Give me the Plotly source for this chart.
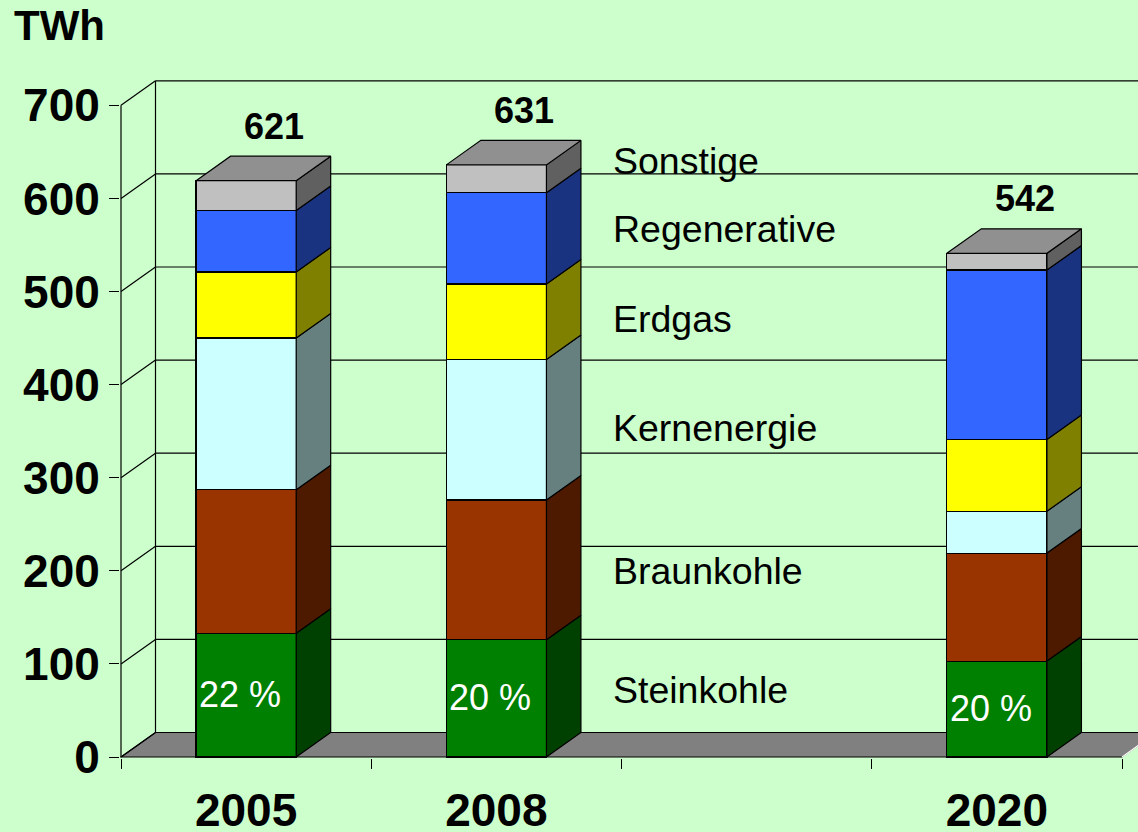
import plotly.graph_objects as go

# ---------------- data ----------------
years = ["2005", "2008", "2020"]
slots = [0, 1, 3]                      # category slot on the x axis (slot 2 is empty)
series_names = ["Steinkohle", "Braunkohle", "Kernenergie", "Erdgas", "Regenerative", "Sonstige"]
steinkohle   = [133, 126, 103]
braunkohle   = [154, 150, 116]
kernenergie  = [163, 151, 45]
erdgas       = [71, 81, 77]
regenerative = [66, 98, 182]
sonstige     = [32, 30, 18]
totals_text  = ["621", "631", "542"]
share_text   = ["22 %", "20 %", "20 %"]
y_ticks      = [0, 100, 200, 300, 400, 500, 600, 700]
label_y      = [72, 200, 353, 470, 567, 640]   # vertical positions of the series names

values = [steinkohle, braunkohle, kernenergie, erdgas, regenerative, sonstige]
front_colors = ["#008000", "#993300", "#CCFFFF", "#FFFF00", "#3366FF", "#C0C0C0"]
side_colors  = ["#004000", "#4D1A00", "#668080", "#808000", "#1A3380", "#606060"]
top_color = "#909090"
bg = "#CCFFCC"
FONT = "Liberation Sans"

# ---------------- geometry ----------------
W, H = 1138, 832
L, B, T = 120, 74, 56
XPX = 250.25          # pixels per x unit
YPX = 0.931           # pixels per TWh
plot_w = W - L
plot_h = H - T - B
xr0 = -0.5 - 1 / XPX
yr0 = -1 / YPX
x_range = [xr0, xr0 + plot_w / XPX]
y_range = [yr0, yr0 + plot_h / YPX]
DX = 34.5 / XPX       # depth offset
DY = 24.5 / YPX
HW = 0.2              # half bar width
LW = 1.2

fig = go.Figure()

# front faces (stacked bars)
for name, vals, col in zip(series_names, values, front_colors):
    fig.add_trace(go.Bar(
        x=slots, y=vals, width=2 * HW, name=name,
        marker=dict(color=col, line=dict(color="black", width=LW)),
        hoverinfo="skip", showlegend=False,
    ))

# side faces
base = [0] * len(slots)
for vals, col in zip(values, side_colors):
    xs, ys = [], []
    for i, c in enumerate(slots):
        y0 = base[i]
        y1 = base[i] + vals[i]
        xs += [c + HW, c + HW + DX, c + HW + DX, c + HW, c + HW, None]
        ys += [y0, y0 + DY, y1 + DY, y1, y0, None]
    fig.add_trace(go.Scatter(x=xs, y=ys, mode="lines", fill="toself", fillcolor=col,
                             line=dict(color="black", width=LW), hoverinfo="skip",
                             showlegend=False))
    base = [b + v for b, v in zip(base, vals)]

# top faces
xs, ys = [], []
for i, c in enumerate(slots):
    t = base[i]
    xs += [c - HW, c + HW, c + HW + DX, c - HW + DX, c - HW, None]
    ys += [t, t, t + DY, t + DY, t, None]
fig.add_trace(go.Scatter(x=xs, y=ys, mode="lines", fill="toself", fillcolor=top_color,
                         line=dict(color="black", width=LW), hoverinfo="skip",
                         showlegend=False))

# walls, floor, grid (below the bars)
shapes = []
xl, xrt = -0.5, 3.5
floor_path = (f"M {xl},0 L {xrt},0 L {xrt + DX},{DY} L {xl + DX},{DY} Z")
shapes.append(dict(type="path", path=floor_path, xref="x", yref="y", fillcolor="#808080",
                   line=dict(color="black", width=LW), layer="below"))
shapes.append(dict(type="line", x0=xrt, y0=0, x1=xrt + DX, y1=DY, xref="x", yref="y",
                   line=dict(color="white", width=1.5), layer="below"))
for t in y_ticks:
    shapes.append(dict(type="line", x0=xl, y0=t, x1=xl + DX, y1=t + DY, xref="x", yref="y",
                       line=dict(color="black", width=LW), layer="below"))
    shapes.append(dict(type="line", x0=xl + DX, y0=t + DY, x1=x_range[1] + 1, y1=t + DY,
                       xref="x", yref="y", line=dict(color="black", width=LW), layer="below"))
shapes.append(dict(type="line", x0=xl + DX, y0=DY, x1=xl + DX, y1=y_ticks[-1] + DY,
                   xref="x", yref="y", line=dict(color="black", width=LW), layer="below"))
shapes.append(dict(type="line", x0=xl, y0=0, x1=xl, y1=y_ticks[-1], xref="x", yref="y",
                   line=dict(color="black", width=LW), layer="below"))

annotations = []
# share of hard coal, centred in the first segment
for i, c in enumerate(slots):
    annotations.append(dict(x=c - 0.024, y=steinkohle[i] / 2, xref="x", yref="y",
                            text=share_text[i], showarrow=False, yanchor="middle", yshift=1,
                            font=dict(size=36, color="white", family=FONT)))
# totals
for i, c in enumerate(slots):
    annotations.append(dict(x=c + 0.112, y=base[i] + DY, xref="x", yref="y", text=totals_text[i],
                            showarrow=False, yanchor="middle", yshift=30,
                            font=dict(size=36, color="black", family=FONT, weight="bold")))
# series labels
for name, ly in zip(series_names, label_y):
    annotations.append(dict(x=1.458, y=ly, xref="x", yref="y", text=name, showarrow=False,
                            xanchor="left", yanchor="middle",
                            font=dict(size=37.5, color="black", family=FONT)))
# unit
annotations.append(dict(x=(12 - L) / plot_w, y=(H - B - 26) / plot_h, xref="paper", yref="paper",
                        text="TWh", showarrow=False, xanchor="left", yanchor="middle",
                        font=dict(size=42, color="black", family=FONT, weight="bold")))

fig.update_layout(
    width=W, height=H, barmode="stack",
    margin=dict(l=L, r=0, t=T, b=B, pad=0, autoexpand=False),
    paper_bgcolor=bg, plot_bgcolor=bg,
    shapes=shapes, annotations=annotations, showlegend=False,
    xaxis=dict(range=x_range, showgrid=False, zeroline=False, showline=False,
               automargin=False,
               tickmode="array", tickvals=slots, ticktext=years, ticks="",
               ticklabelstandoff=21,
               tickfont=dict(size=46, color="black", family=FONT, weight="bold"),
               minor=dict(tickmode="array", tickvals=[-0.5, 0.5, 1.5, 2.5, 3.5],
                          ticks="outside", ticklen=10, tickwidth=LW, tickcolor="black",
                          showgrid=False)),
    yaxis=dict(range=y_range, showgrid=False, zeroline=False, showline=False,
               automargin=False,
               tickmode="array", tickvals=y_ticks, ticks="outside", ticklen=10,
               tickwidth=LW, tickcolor="black", ticklabelstandoff=0,
               tickfont=dict(size=46, color="black", family=FONT, weight="bold")),
)

fig.write_html(
    "out.html",
    config={"displayModeBar": False},
    post_script="document.body.style.margin='0';document.body.style.background='#CCFFCC';"
                "document.documentElement.style.overflow='hidden';",
)
